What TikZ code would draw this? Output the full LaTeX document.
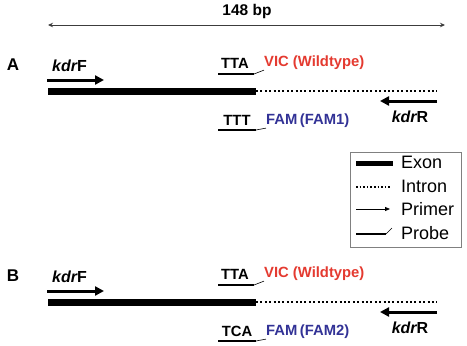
\documentclass[tikz,border=0pt]{standalone}
\usepackage{fontspec}
\setmainfont{Liberation Sans}
\usetikzlibrary{arrows.meta}
\definecolor{vicred}{RGB}{228,58,48}
\definecolor{famblue}{RGB}{50,50,150}
\definecolor{spangray}{RGB}{60,60,60}
\tikzset{
  lbl/.style={font=\fontsize{14.8}{17}\selectfont\bfseries, inner sep=0pt},
  primerlbl/.style={font=\fontsize{16}{18}\selectfont\bfseries, inner sep=0pt},
  keytext/.style={font=\fontsize{18}{20}\selectfont, inner sep=0pt, anchor=west},
  exon/.style={line width=7pt},
  intron/.style={line width=2pt, dash pattern=on 2pt off 2.4pt},
  primer/.style={line width=3pt, -{Triangle[length=9pt,width=9pt]}},
  probe/.style={line width=2.8pt},
  probetick/.style={line width=0.6pt},
}
\begin{document}
\begin{tikzpicture}[x=1pt, y=-1pt]
  \useasboundingbox (0,0) rectangle (467,346);
  \node[lbl, font=\fontsize{15.5}{17}\selectfont\bfseries] (span) at (247,11) {148 bp};
  \coordinate (spanL) at (48,25);
  \coordinate (spanR) at (445,25);
  \draw[spangray, line width=1pt, {Stealth[length=5pt,width=4.5pt]}-{Stealth[length=5pt,width=4.5pt]}] (spanL) -- (spanR);
  \foreach \dy/\pnl/\seq/\fam in {0/A/TTT/FAM1, 211/B/TCA/FAM2} {
    \begin{scope}[shift={(0,\dy)}]
      \node[lbl, font=\fontsize{17}{19}\selectfont\bfseries] (panel\pnl) at (13,65) {\pnl};
      \node[primerlbl, anchor=west] (kdrF\pnl) at (52,66) {{\itshape kdr}F};
      \coordinate (fs\pnl) at (47,80);
      \coordinate (fe\pnl) at (104,80);
      \draw[primer] (fs\pnl) -- (fe\pnl);
      \coordinate (ex\pnl) at (48,91);
      \coordinate (jn\pnl) at (256,91);
      \coordinate (in\pnl) at (437,91);
      \draw[exon] (ex\pnl) -- (jn\pnl);
      \draw[intron] (jn\pnl) -- (in\pnl);
      \coordinate (rs\pnl) at (437,101);
      \coordinate (re\pnl) at (380,101);
      \draw[primer] (rs\pnl) -- (re\pnl);
      \node[primerlbl] (kdrR\pnl) at (410,117) {{\itshape kdr}R};
      \node[lbl] (wt\pnl) at (235,63) {TTA};
      \coordinate (wta\pnl) at (218,74);
      \coordinate (wtb\pnl) at (254,74);
      \draw[probe] (wta\pnl) -- (wtb\pnl);
      \node[lbl, anchor=west, vicred] (vic\pnl) at (264,63) {VIC (Wildtype)};
      \draw[probetick] (wtb\pnl) -- (vic\pnl.south west);
      \node[lbl] (mt\pnl) at (237,120) {\seq};
      \coordinate (mta\pnl) at (218,130);
      \coordinate (mtb\pnl) at (256,130);
      \draw[probe] (mta\pnl) -- (mtb\pnl);
      \node[lbl, anchor=west, famblue] (famlbl\pnl) at (266,121) {FAM\,(\fam)};
      \draw[probetick] (mtb\pnl) -- (famlbl\pnl.south west);
    \end{scope}
  }
  \draw[gray, line width=0.8pt] (350,152) rectangle (461,247);
  \node[keytext] (kexon) at (401,162) {Exon};
  \node[keytext] (kintron) at (401,186) {Intron};
  \node[keytext] (kprimer) at (401,209) {Primer};
  \node[keytext] (kprobe) at (401,233) {Probe};
  \draw[line width=5pt] (356,163) -- (393,163);
  \draw[line width=1.6pt, dash pattern=on 1.6pt off 2pt] (356,187) -- (391,187);
  \draw[line width=0.8pt, -{Triangle[length=5pt,width=4pt]}] (356,209) -- (390,209);
  \coordinate (kpa) at (356,234);
  \coordinate (kpb) at (386,234);
  \draw[probe] (kpa) -- (kpb);
  \draw[probetick] (kpb) -- ++(6,-6);
\end{tikzpicture}
\end{document}
